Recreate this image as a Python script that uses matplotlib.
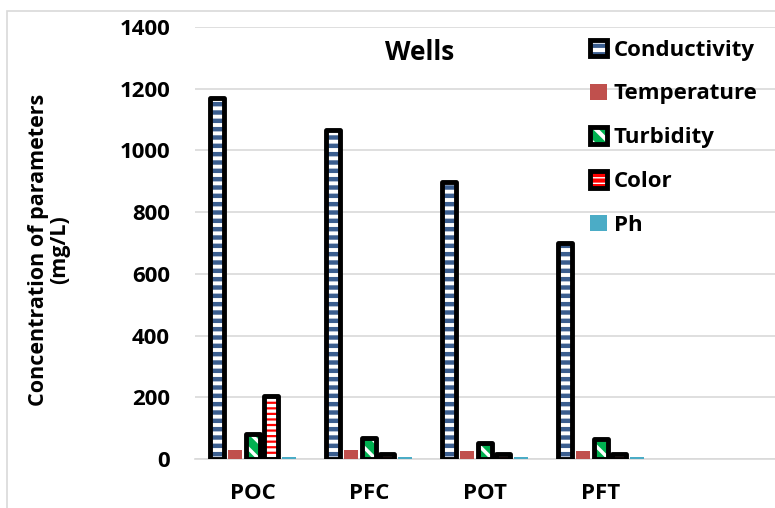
import numpy as np
import matplotlib
matplotlib.use("Agg")
import matplotlib.pyplot as plt
from matplotlib.patches import Rectangle
from matplotlib.legend_handler import HandlerTuple

categories = ["POC", "PFC", "POT", "PFT"]
conductivity = [1170, 1066, 897, 700]
temperature = [30, 28, 27, 27]
turbidity = [80, 68, 52, 66]
color = [205, 15, 15, 15]
ph = [7, 7, 7, 7]
yticks = [0, 200, 400, 600, 800, 1000, 1200, 1400]

series_names = ["Conductivity", "Temperature", "Turbidity", "Color", "Ph"]
series_vals = [conductivity, temperature, turbidity, color, ph]

FONT = "Open Sans"
plt.rcParams["font.family"] = [FONT, "DejaVu Sans"]
plt.rcParams["font.weight"] = "bold"
plt.rcParams["hatch.linewidth"] = 3.0

W, H = 775, 508
fig = plt.figure(figsize=(W / 100, H / 100), dpi=100)
ax = fig.add_axes([195 / W, 49 / H, 580 / W, 432 / H])

# outer chart frame
fig.patches.append(Rectangle((7 / W, -0.05), 1.1, 1 - 11 / H + 0.05, transform=fig.transFigure,
                             fill=False, edgecolor="#D9D9D9", lw=1.2, zorder=0))

x = np.arange(len(categories))
slot = 18 / 116
width = 14.5 / 116
lw_edge = 3.5

styles = [
    dict(face="white", hatchcol="#3B5E8F", hatch="--", hlw=3.2, outline=True),
    dict(face="#C0504D", hatchcol=None, hatch=None, hlw=None, outline=False),
    dict(face="#00B050", hatchcol="white", hatch="\\\\", hlw=2.5, outline=True),
    dict(face="white", hatchcol="#FF0000", hatch="---", hlw=1.6, outline=True),
    dict(face="#4BACC6", hatchcol=None, hatch=None, hlw=None, outline=False),
]

handles = []
for i, (name, vals, st) in enumerate(zip(series_names, series_vals, styles)):
    pos = x + (i - 2) * slot
    z = 3 + i
    if st["outline"]:
        with plt.rc_context({"hatch.linewidth": st["hlw"]}):
            b1 = ax.bar(pos, vals, width, color=st["face"], edgecolor=st["hatchcol"],
                        hatch=st["hatch"], linewidth=0, zorder=z)
        for p in b1:
            if hasattr(p, "set_hatch_linewidth"):
                p.set_hatch_linewidth(st["hlw"])
        b2 = ax.bar(pos, vals, width, fill=False, edgecolor="black",
                    linewidth=lw_edge, zorder=z + 0.5)
        for p in b2:
            p.set_joinstyle("round")
        handles.append((b1[0], b2[0]))
    else:
        b1 = ax.bar(pos, vals, width, color=st["face"], linewidth=0, zorder=z)
        handles.append(b1[0])

ax.set_xlim(-0.5, 4.5)
ax.set_ylim(0, 1400)
ax.set_yticks(yticks)
ax.set_xticks(x)
ax.set_xticklabels(categories)
ax.tick_params(axis="both", length=0, labelsize=16)
ax.tick_params(axis="y", pad=18)
ax.tick_params(axis="x", pad=17)
for lab in ax.get_xticklabels() + ax.get_yticklabels():
    lab.set_fontweight("bold")
ax.grid(axis="y", color="#D9D9D9", lw=1.2, zorder=0)
ax.set_axisbelow(True)
for s in ["left", "right", "top"]:
    ax.spines[s].set_visible(False)
ax.spines["bottom"].set_color("#D9D9D9")
ax.spines["bottom"].set_linewidth(1.2)

fig.text(420 / W, 1 - 52 / H, "Wells", ha="center", va="center", fontsize=19, fontweight="bold")
fig.text(49 / W, 1 - 250 / H, "Concentration of parameters\n(mg/L)", rotation=90,
         ha="center", va="center", fontsize=15.5, fontweight="bold", multialignment="center",
         linespacing=1.05)

leg = ax.legend(handles, series_names, loc="upper left", bbox_to_anchor=(0.655, 1.007),
                frameon=False, handlelength=0.75, handleheight=0.75,
                handletextpad=0.3, labelspacing=1.03, borderaxespad=0.3,
                handler_map={tuple: HandlerTuple(ndivide=1)},
                prop={"weight": "bold", "size": 16})

fig.savefig("out.png", dpi=100)
